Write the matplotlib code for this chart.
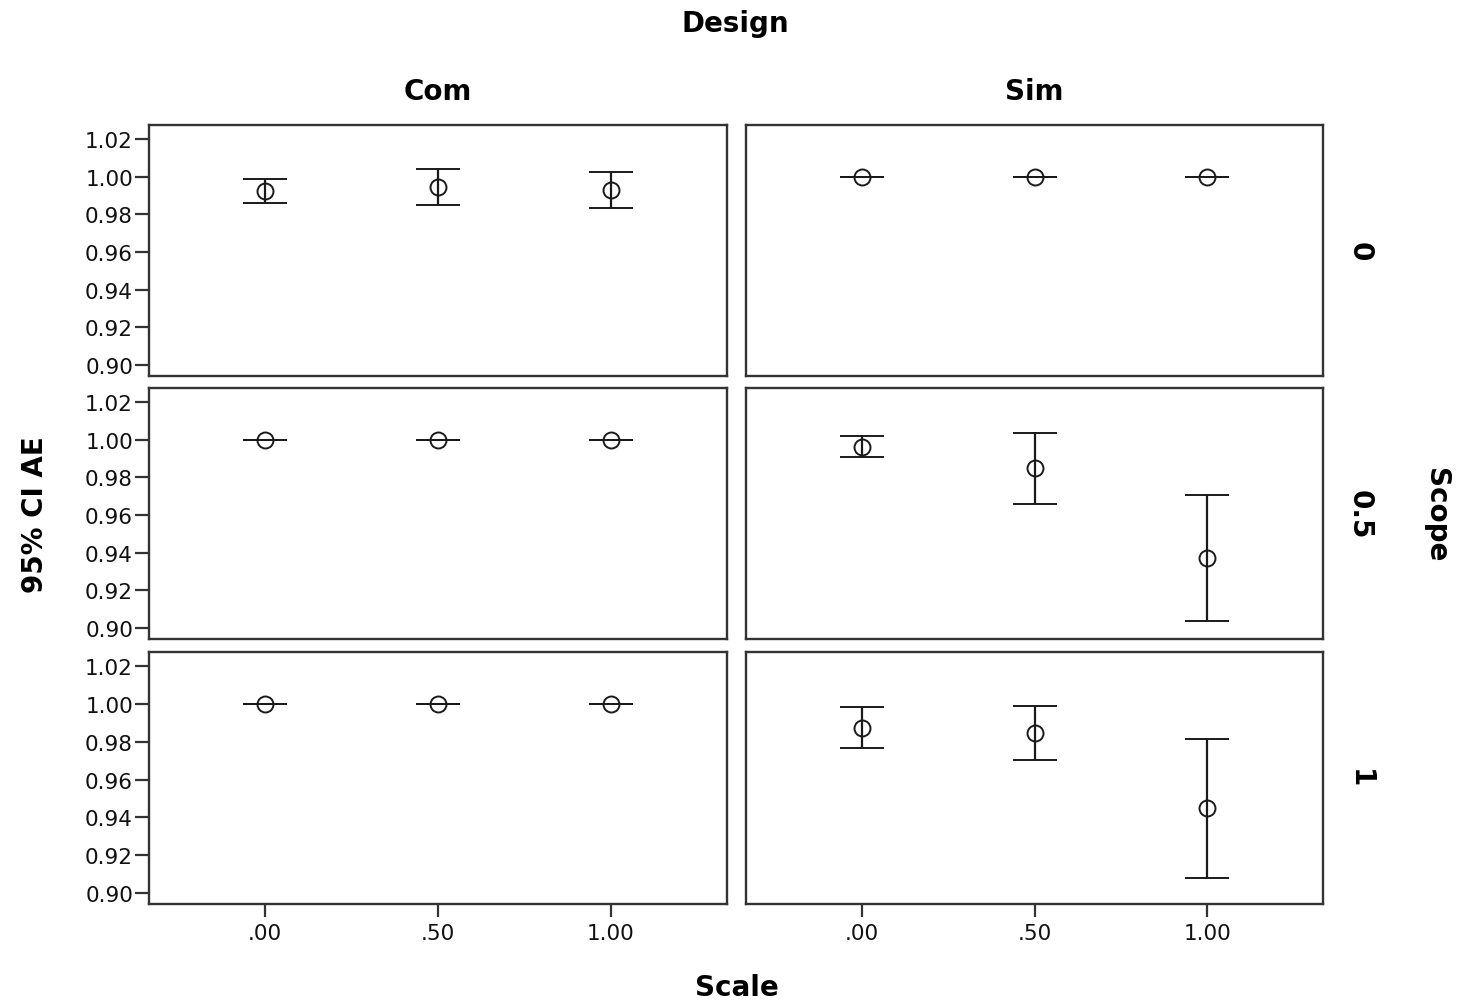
import matplotlib
matplotlib.use("Agg")
import matplotlib.pyplot as plt

plt.rcParams['font.family'] = ['DejaVu Sans']

# Facet levels
designs = ["Com", "Sim"]
scopes = ["0", "0.5", "1"]
scale_levels = [0.0, 0.5, 1.0]
scale_labels = [".00", ".50", "1.00"]

# Mean AE with 95% CI bounds, per (scope, design), ordered by scale level
mean_com_0 = [0.9925, 0.9947, 0.9930]
low_com_0 = [0.9860, 0.9850, 0.9832]
high_com_0 = [0.9986, 1.0040, 1.0025]

mean_com_05 = [1.0, 1.0, 1.0]
low_com_05 = [1.0, 1.0, 1.0]
high_com_05 = [1.0, 1.0, 1.0]

mean_com_1 = [1.0, 1.0, 1.0]
low_com_1 = [1.0, 1.0, 1.0]
high_com_1 = [1.0, 1.0, 1.0]

mean_sim_0 = [1.0, 1.0, 1.0]
low_sim_0 = [1.0, 1.0, 1.0]
high_sim_0 = [1.0, 1.0, 1.0]

mean_sim_05 = [0.9963, 0.9848, 0.9372]
low_sim_05 = [0.9908, 0.9660, 0.9040]
high_sim_05 = [1.0018, 1.0035, 0.9708]

mean_sim_1 = [0.9872, 0.9845, 0.9447]
low_sim_1 = [0.9765, 0.9702, 0.9080]
high_sim_1 = [0.9982, 0.9986, 0.9812]

panels = {
    ("0", "Com"): (mean_com_0, low_com_0, high_com_0),
    ("0.5", "Com"): (mean_com_05, low_com_05, high_com_05),
    ("1", "Com"): (mean_com_1, low_com_1, high_com_1),
    ("0", "Sim"): (mean_sim_0, low_sim_0, high_sim_0),
    ("0.5", "Sim"): (mean_sim_05, low_sim_05, high_sim_05),
    ("1", "Sim"): (mean_sim_1, low_sim_1, high_sim_1),
}

y_ticks = [0.90, 0.92, 0.94, 0.96, 0.98, 1.00, 1.02]

W, H = 1466, 1004
fig = plt.figure(figsize=(W / 100, H / 100), dpi=100)

col_px = [(149, 727), (746, 1323)]
row_px = [(126, 377), (389, 640), (653, 905)]

edge = "#333333"
ink = "#1a1a1a"
tick_fs = 15.5
head_fs = 20

for r, scope in enumerate(scopes):
    for c, design in enumerate(designs):
        x0, x1 = col_px[c]
        yt, yb = row_px[r]
        ax = fig.add_axes([x0 / W, 1 - yb / H, (x1 - x0) / W, (yb - yt) / H])
        m, lo, hi = panels[(scope, design)]
        err = [[mi - l for mi, l in zip(m, lo)], [h - mi for mi, h in zip(m, hi)]]
        ax.errorbar(scale_levels, m, yerr=err, fmt="o", mfc="none", mec=ink,
                    ms=11.5, mew=1.4, ecolor=ink, elinewidth=1.6,
                    capsize=16, capthick=1.7)
        ax.set_xlim(-0.335, 1.335)
        ax.set_ylim(0.8942, 1.0274)
        for s in ax.spines.values():
            s.set_color(edge)
            s.set_linewidth(1.7)
        ax.tick_params(direction="out", width=1.6, color=edge,
                       labelsize=tick_fs, labelcolor="#111111")
        if c == 0:
            ax.set_yticks(y_ticks)
            ax.set_yticklabels([f"{v:.2f}" for v in y_ticks])
            ax.tick_params(axis="y", length=10, pad=1.5)
        else:
            ax.set_yticks([])
        if r == len(scopes) - 1:
            ax.set_xticks(scale_levels)
            ax.set_xticklabels(scale_labels)
            ax.tick_params(axis="x", length=9, pad=5)
        else:
            ax.set_xticks([])
        if r == 0:
            ax.text(0.5, 1.0 + 34 / (yb - yt), design, transform=ax.transAxes,
                    ha="center", va="center", fontsize=head_fs, fontweight="bold")
        if c == 1:
            ax.text(1360 / W, 1 - ((yt + yb) / 2) / H, scope, transform=fig.transFigure,
                    ha="center", va="center", rotation=-90, fontsize=head_fs,
                    fontweight="bold")

fig.text(735 / W, 1 - 24 / H, "Design", ha="center", va="center",
         fontsize=head_fs, fontweight="bold")
fig.text(737 / W, 1 - 988 / H, "Scale", ha="center", va="center",
         fontsize=head_fs, fontweight="bold")
fig.text(35 / W, 1 - 515 / H, "95% CI AE", ha="center", va="center",
         rotation=90, fontsize=head_fs, fontweight="bold")
fig.text(1436 / W, 1 - 515 / H, "Scope", ha="center", va="center",
         rotation=-90, fontsize=head_fs, fontweight="bold")

fig.savefig("out.png", dpi=100, facecolor="white")
